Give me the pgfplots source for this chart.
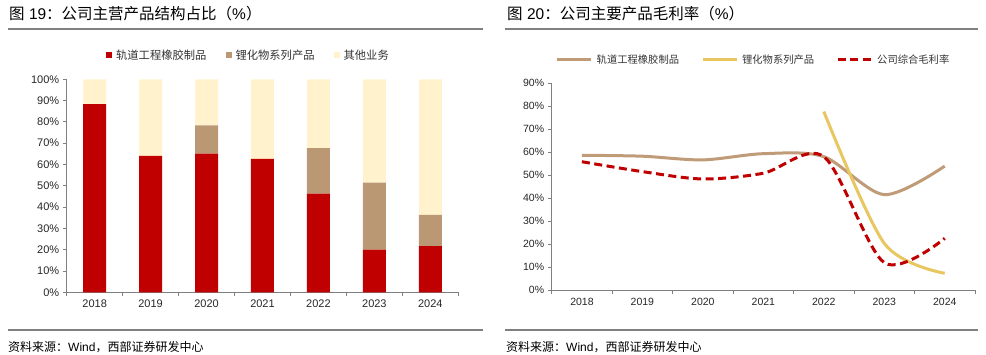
\documentclass[border=0pt]{standalone}
\usepackage{pgfplots}
\pgfplotsset{compat=1.18}
\usepackage{fontspec}
\setmainfont{Liberation Sans}
\newfontfamily\cjk{Noto Sans CJK SC}
\definecolor{cred}{HTML}{C00000}
\definecolor{cbrown}{HTML}{BB9874}
\definecolor{ccream}{HTML}{FFF2CC}
\definecolor{lbrown}{HTML}{C09B77}
\definecolor{lyellow}{HTML}{E8C660}
\definecolor{rulegray}{HTML}{808080}
\begin{document}
\begin{tikzpicture}
\path[use as bounding box] (0pt,0pt) rectangle (986pt,355pt);
% titles
\node[anchor=west,inner sep=0pt,font=\fontsize{15.5}{16}\selectfont] at (9pt,341pt) {{\cjk 图} 19{\cjk ：公司主营产品结构占比（}\%{\cjk ）}};
\node[anchor=west,inner sep=0pt,font=\fontsize{15.5}{16}\selectfont] at (507pt,341pt) {{\cjk 图} 20{\cjk ：公司主要产品毛利率（}\%{\cjk ）}};
\draw[line width=1.5pt, rulegray] (8pt,326pt) -- (483pt,326pt);
\draw[line width=1.5pt, rulegray] (505pt,326pt) -- (978pt,326pt);
% sources
\draw[line width=1.5pt, rulegray] (8pt,25pt) -- (483pt,25pt);
\draw[line width=1.5pt, rulegray] (505pt,25pt) -- (978pt,25pt);
\node[anchor=west,inner sep=0pt,font=\fontsize{12}{12}\selectfont] at (8pt,8pt) {{\cjk 资料来源：}Wind{\cjk ，西部证券研发中心}};
\node[anchor=west,inner sep=0pt,font=\fontsize{12}{12}\selectfont] at (506pt,8pt) {{\cjk 资料来源：}Wind{\cjk ，西部证券研发中心}};

\pgfplotsset{
  common/.style={
    scale only axis,
    axis x line*=bottom, axis y line*=left,
    xmin=-0.5, xmax=6.5,
    xtick={0,1,2,3,4,5,6},
    xticklabels={2018,2019,2020,2021,2022,2023,2024},
    minor xtick={-0.5,0.5,1.5,2.5,3.5,4.5,5.5,6.5},
    major x tick style={draw=none},
    tick align=outside,
    major tick length=4pt, minor tick length=4pt,
    axis line style={rulegray, line width=0.8pt},
    tick style={rulegray, line width=0.8pt},
    yticklabel={\pgfmathprintnumber{\tick}\%},
    /pgf/number format/assume math mode=true,
    ticklabel style={font=\fontsize{11}{11}\selectfont, text=black!85},
    legend cell align=left,
  }
}

% left chart
\begin{axis}[common,
  at={(66.7pt,62.7pt)}, anchor=south west,
  width=391.6pt, height=213pt,
  ymin=0, ymax=100, ytick={0,10,...,100},
  ybar stacked, bar width=23pt,
  legend columns=3,
  legend style={at={(0.4617,1.114)}, anchor=center, draw=none, fill=none, inner sep=0pt,
    nodes={inner sep=0pt, font=\cjk\fontsize{11.3}{11}\selectfont, text=black!80},
    /tikz/every odd column/.append style={column sep=4pt},
    /tikz/every even column/.append style={column sep=19pt}},
  legend image code/.code={\fill[#1] (0pt,-3pt) rectangle (6pt,3pt);},
]
\addplot[fill=cred, draw=none] coordinates {(0,88.3) (1,64.1) (2,65.1) (3,62.6) (4,46.3) (5,20.0) (6,21.7)};
\addplot[fill=cbrown, draw=none] coordinates {(0,0) (1,0) (2,13.3) (3,0) (4,21.4) (5,31.5) (6,14.7)};
\addplot[fill=ccream, draw=none] coordinates {(0,11.7) (1,35.9) (2,21.6) (3,37.4) (4,32.3) (5,48.5) (6,63.6)};
\legend{轨道工程橡胶制品,锂化物系列产品,其他业务}
\end{axis}

% right chart
\begin{axis}[common,
  at={(551.7pt,64.7pt)}, anchor=south west,
  width=423.3pt, height=207pt,
  ymin=0, ymax=90, ytick={0,10,...,90},
  ticklabel style={font=\fontsize{10.5}{10.5}\selectfont},
  legend columns=3,
  legend style={at={(0.4744,1.1126)}, anchor=center, draw=none, fill=none, inner sep=0pt,
    nodes={inner sep=0pt, font=\cjk\fontsize{10.3}{10}\selectfont, text=black!80},
    /tikz/every odd column/.append style={column sep=4pt},
    /tikz/every even column/.append style={column sep=22pt}},
  legend image code/.code={\draw[#1] (0pt,0pt) -- (34pt,0pt);},
]
\addplot[lbrown, line width=3pt, smooth] coordinates {(0,58.7) (1,58.3) (2,56.7) (3,59.4) (4,58.1) (5,41.6) (6,54.0)};
\addplot[lyellow, line width=3pt, smooth] coordinates {(4,77.7) (5,20.4) (6,7.4)};
\addplot[cred, line width=3pt, smooth, dash pattern=on 8pt off 4.5pt] coordinates {(0,55.9) (1,51.6) (2,48.4) (3,50.9) (4,58.1) (5,12.0) (6,22.6)};
\legend{轨道工程橡胶制品,锂化物系列产品,公司综合毛利率}
\end{axis}
\end{tikzpicture}
\end{document}
